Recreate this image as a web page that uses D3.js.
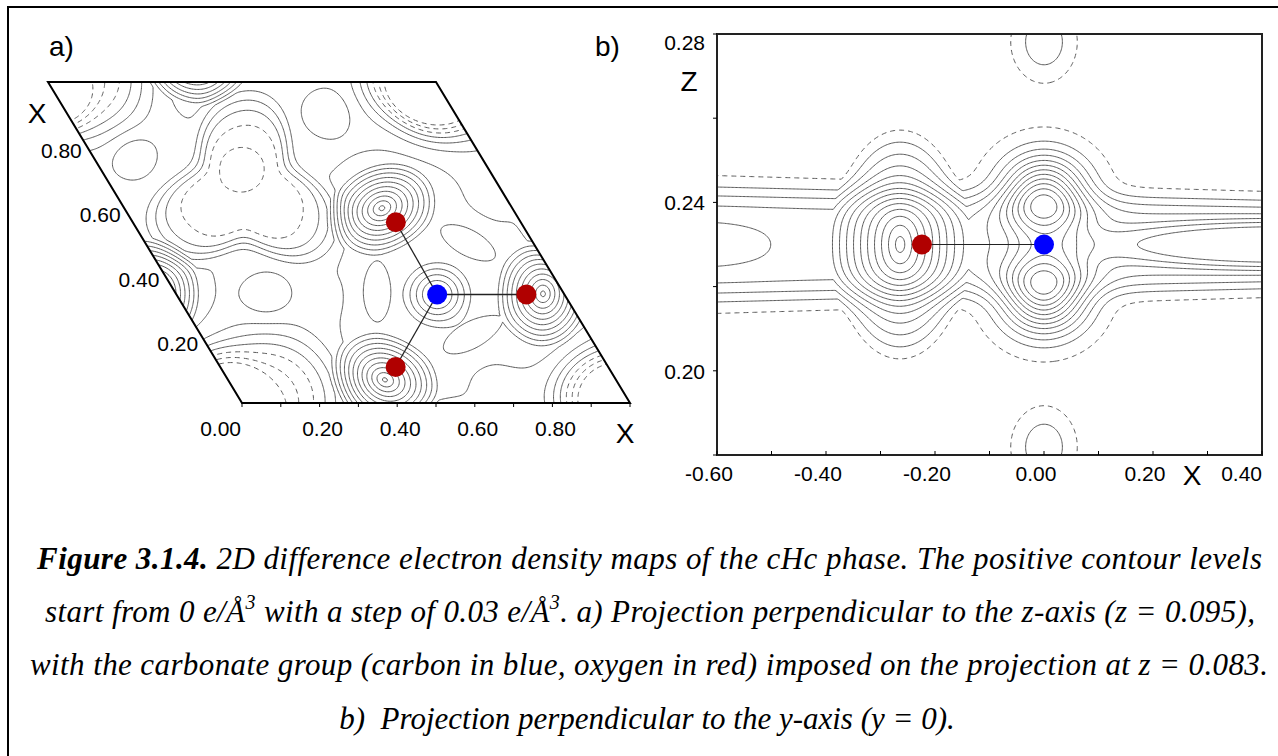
<!DOCTYPE html>
<html lang="en">
<head>
<meta charset="UTF-8">
<script src="https://d3js.org/d3.v7.min.js"></script>
<style>
  body { margin: 0; background: #fff; }
  svg text { font-family: "Liberation Sans", Arial, sans-serif; fill: #000; }
  svg .caption text { font-family: "Liberation Serif", "Times New Roman", serif; font-style: italic; font-size: 31px; }
</style>
</head>
<body>
<svg id="fig" width="1278" height="756"></svg>
<script>
// ---------- panel a : fractional coords (u, v) of the hexagonal cell ----------
const ticksA = [0, 0.2, 0.4, 0.6, 0.8];
const minorTicksA = d3.range(0, 1.0001, 0.1);
const plateauA = 0.075;
// p = 0 -> cone profile, otherwise exp(-r^p / 2); k3 gives a three-fold (triangular) shape
const oxygenPeaksA = [
  { u: 0.946, v: 0.340, a: 0.28, rx: 0.12, ry: 0.15, rot: 0, p: 0 },
  { u: 0.664, v: 0.607, a: 0.28, rx: 0.12, ry: 0.15, rot: 120, p: 0 },
  { u: 0.404, v: 0.072, a: 0.28, rx: 0.12, ry: 0.15, rot: 240, p: 0 }
];
const oxygenHalosA = [
  { u: 0.930, v: 0.340, a: 0.05, rx: 0.11, ry: 0.13, rot: 0, p: 2 },
  { u: 0.666, v: 0.595, a: 0.05, rx: 0.11, ry: 0.13, rot: 120, p: 2 },
  { u: 0.418, v: 0.082, a: 0.05, rx: 0.11, ry: 0.13, rot: 240, p: 2 }
];
const carbonPeakA = [{ u: 0.672, v: 0.338, a: 0.20, rx: 0.10, ry: 0.10, rot: 0, p: 0 }];
const lonePairPeaksA = [
  { u: 0.520, v: 0.343, a: 0.05, rx: 0.035, ry: 0.06, rot: 180, p: 2 },
  { u: 0.832, v: 0.500, a: 0.05, rx: 0.035, ry: 0.06, rot: 60, p: 2 },
  { u: 0.688, v: 0.208, a: 0.05, rx: 0.035, ry: 0.06, rot: -60, p: 2 }
];
const ovalPeaksA = [
  { u: 0.105, v: 0.773, a: 0.035, rx: 0.045, ry: 0.045, rot: 0, p: 2 },
  { u: 0.671, v: 0.903, a: 0.035, rx: 0.045, ry: 0.045, rot: 0, p: 2 },
  { u: 0.229, v: 0.333, a: 0.035, rx: 0.045, ry: 0.045, rot: 0, p: 2 }
];
const wellsA = [
  { u: 0.335, v: 0.660, a: -0.125, rx: 0.18, ry: 0.18, rot: 0, p: 6, k3: 0.3, phi3: 90 },
  { u: 0.363, v: 0.732, a: -0.035, rx: 0.043, ry: 0.043, rot: 0, p: 2 },
  { u: 0.075, v: 0.020, a: -0.15, rx: 0.15, ry: 0.13, rot: 0, p: 3 },
  { u: -0.065, v: 0.025, a: -0.13, rx: 0.09, ry: 0.09, rot: 0, p: 3 },
  { u: -0.026, v: -0.047, a: -0.13, rx: 0.08, ry: 0.08, rot: 0, p: 3 }
];
const carbonAtomA = [0.672, 0.338];
const oxygenAtomsA = [[0.902, 0.338], [0.678, 0.563], [0.452, 0.112]];

// ---------- panel b : x, z ----------
const ticksBx = [-0.6, -0.4, -0.2, 0.0, 0.2, 0.4];
const ticksBz = [0.20, 0.24, 0.28];
const baseB = -0.045;
const bandB = { z: 0.23, a: 0.125, sLeft: 0.0114, sRight: 0.0088, p: 4 };
const peaksB = [
  { x: -0.264, z: 0.23, a: 0.30, sx: 0.128, sz: 0.0286, p: 0 },     // oxygen
  { x: 0.0, z: 0.2415, a: 0.30, sx: 0.055, sz: 0.0067, p: 2 },      // carbon upper lobe
  { x: 0.0, z: 0.2185, a: 0.30, sx: 0.055, sz: 0.0067, p: 2 },      // carbon lower lobe
  { x: -0.12, z: 0.23, a: 0.02, sx: 0.022, sz: 0.0052, p: 2 },      // bond bump
  { x: -0.63, z: 0.23, a: 0.025, sx: 0.095, sz: 0.0046, p: 2 },     // left edge
  { x: 0.45, z: 0.23, a: 0.10, sx: 0.30, sz: 0.0048, p: 4 },        // right edge
  { x: 0.0, z: 0.2781, a: 0.073, sx: 0.0343, sz: 0.0055, p: 2 },    // top column
  { x: 0.0, z: 0.1819, a: 0.073, sx: 0.0343, sz: 0.0055, p: 2 }     // bottom column
];
const carbonAtomB = [0.0, 0.23];
const oxygenAtomB = [-0.224, 0.23];

const levels = d3.range(-3, 17).map(k => +(k * 0.03).toFixed(2));

const SQ3 = Math.sqrt(3);
const profile = (r, p) => p === 0 ? Math.max(0, 1 - r) : Math.exp(-0.5 * Math.pow(r, p));

const svg = d3.select("#fig");

// outer frame (top and left)
svg.append("path").attr("d", "M8,756 L8,7 L1278,7")
  .attr("fill", "none").attr("stroke", "#000").attr("stroke-width", 2);

// ================= panel a =================
const xA = d3.scaleLinear().domain([0, 1]).range([242, 630]);
const yA = d3.scaleLinear().domain([0, 1]).range([403, 82]);
const skewA = 194;
const toA = (u, v) => [xA(u) - skewA * v, yA(v)];

const peaksA = [].concat(oxygenPeaksA, oxygenHalosA, carbonPeakA, lonePairPeaksA, ovalPeaksA, wellsA);
function fieldA(u, v) {
  const X = u - v / 2, Y = v * SQ3 / 2;
  let f = plateauA;
  for (const pk of peaksA) {
    const c = Math.cos(pk.rot * Math.PI / 180), s = Math.sin(pk.rot * Math.PI / 180);
    for (let du = -1; du <= 1; du++) for (let dv = -1; dv <= 1; dv++) {
      const pu = pk.u + du, pv = pk.v + dv;
      const dx = X - (pu - pv / 2), dy = Y - pv * SQ3 / 2;
      const ex = (dx * c + dy * s) / pk.rx, ey = (-dx * s + dy * c) / pk.ry;
      let r = Math.hypot(ex, ey);
      if (pk.k3) r /= 1 + pk.k3 * Math.cos(3 * (Math.atan2(dy, dx) - pk.phi3 * Math.PI / 180));
      f += pk.a * profile(r, pk.p);
    }
  }
  return f;
}

const nA = 300, u0 = -0.06, u1 = 1.06, stepA = (u1 - u0) / (nA - 1);
const valuesA = new Float64Array(nA * nA);
for (let j = 0; j < nA; j++) for (let i = 0; i < nA; i++) {
  valuesA[j * nA + i] = fieldA(u0 + i * stepA, u1 - j * stepA);
}
const projA = d3.geoTransform({
  point(cx, cy) {
    const p = toA(u0 + (cx - 0.5) * stepA, u1 - (cy - 0.5) * stepA);
    this.stream.point(p[0], p[1]);
  }
});

const cellA = [toA(0, 0), toA(1, 0), toA(1, 1), toA(0, 1)];
svg.append("clipPath").attr("id", "clipA").append("polygon").attr("points", cellA.join(" "));

svg.append("g").attr("clip-path", "url(#clipA)")
  .selectAll("path")
  .data(d3.contours().size([nA, nA]).thresholds(levels)(valuesA))
  .join("path")
  .attr("d", d3.geoPath(projA))
  .attr("fill", "none")
  .attr("stroke", "#5a5a5a")
  .attr("stroke-width", 1)
  .attr("stroke-dasharray", d => d.value < -1e-9 ? "5,4" : null);

// bonds and atoms
const gAtomsA = svg.append("g");
oxygenAtomsA.forEach(o => {
  gAtomsA.append("line")
    .attr("x1", toA(...carbonAtomA)[0]).attr("y1", toA(...carbonAtomA)[1])
    .attr("x2", toA(...o)[0]).attr("y2", toA(...o)[1])
    .attr("stroke", "#222").attr("stroke-width", 1.3);
});
oxygenAtomsA.forEach(o => {
  gAtomsA.append("circle").attr("cx", toA(...o)[0]).attr("cy", toA(...o)[1])
    .attr("r", 10).attr("fill", "#b00000");
});
gAtomsA.append("circle").attr("cx", toA(...carbonAtomA)[0]).attr("cy", toA(...carbonAtomA)[1])
  .attr("r", 10).attr("fill", "#0000ff");

// cell frame
svg.append("polygon").attr("points", cellA.join(" "))
  .attr("fill", "none").attr("stroke", "#000").attr("stroke-width", 2);

// ticks on bottom edge
svg.append("g").selectAll("line").data(minorTicksA).join("line")
  .attr("x1", d => xA(d)).attr("x2", d => xA(d))
  .attr("y1", yA(0)).attr("y2", yA(0) + 4)
  .attr("stroke", "#000").attr("stroke-width", 1);

svg.append("g").selectAll("text").data(ticksA).join("text")
  .attr("x", d => d === 0 ? xA(d) - 1 : xA(d) + 3)
  .attr("y", 436)
  .attr("text-anchor", d => d === 0 ? "end" : "middle")
  .attr("font-size", 21)
  .text(d => d.toFixed(2));

svg.append("g").selectAll("text").data(ticksA.filter(d => d > 0)).join("text")
  .attr("x", d => toA(0, d)[0] - 5)
  .attr("y", d => toA(0, d)[1] + 12)
  .attr("text-anchor", "end")
  .attr("font-size", 21)
  .text(d => d.toFixed(2));

svg.append("text").attr("x", 37).attr("y", 123).attr("text-anchor", "middle").attr("font-size", 28).text("X");
svg.append("text").attr("x", 625).attr("y", 443).attr("text-anchor", "middle").attr("font-size", 28).text("X");
svg.append("text").attr("x", 49).attr("y", 56).attr("font-size", 28).text("a)");

// ================= panel b =================
const xB = d3.scaleLinear().domain([-0.6, 0.4]).range([717, 1262]);
const zB = d3.scaleLinear().domain([0.18, 0.28]).range([455, 34]);
const bandWidth = d3.scaleLinear().domain([-0.6, 0.4]).range([bandB.sLeft, bandB.sRight]);

function fieldB(x, z) {
  let f = baseB + bandB.a * Math.exp(-0.5 * Math.pow(Math.abs(z - bandB.z) / bandWidth(x), bandB.p));
  for (const pk of peaksB) {
    const dx = (x - pk.x) / pk.sx;
    const dz = (z - pk.z) / pk.sz;
    f += pk.a * profile(Math.hypot(dx, dz), pk.p);
  }
  return f;
}

const nBx = 420, nBz = 340;
const bx0 = -0.62, bx1 = 0.42, bz0 = 0.175, bz1 = 0.285;
const sBx = (bx1 - bx0) / (nBx - 1), sBz = (bz1 - bz0) / (nBz - 1);
const valuesB = new Float64Array(nBx * nBz);
for (let j = 0; j < nBz; j++) for (let i = 0; i < nBx; i++) {
  valuesB[j * nBx + i] = fieldB(bx0 + i * sBx, bz1 - j * sBz);
}
const projB = d3.geoTransform({
  point(cx, cy) {
    this.stream.point(xB(bx0 + (cx - 0.5) * sBx), zB(bz1 - (cy - 0.5) * sBz));
  }
});

svg.append("clipPath").attr("id", "clipB").append("rect")
  .attr("x", xB(-0.6)).attr("y", zB(0.28))
  .attr("width", xB(0.4) - xB(-0.6)).attr("height", zB(0.18) - zB(0.28));

svg.append("g").attr("clip-path", "url(#clipB)")
  .selectAll("path")
  .data(d3.contours().size([nBx, nBz]).thresholds(levels)(valuesB))
  .join("path")
  .attr("d", d3.geoPath(projB))
  .attr("fill", "none")
  .attr("stroke", "#5a5a5a")
  .attr("stroke-width", 1)
  .attr("stroke-dasharray", d => d.value < -1e-9 ? "5,4" : null);

svg.append("line")
  .attr("x1", xB(oxygenAtomB[0])).attr("y1", zB(oxygenAtomB[1]))
  .attr("x2", xB(carbonAtomB[0])).attr("y2", zB(carbonAtomB[1]))
  .attr("stroke", "#222").attr("stroke-width", 1.2);
svg.append("circle").attr("cx", xB(oxygenAtomB[0])).attr("cy", zB(oxygenAtomB[1]))
  .attr("r", 10).attr("fill", "#b00000");
svg.append("circle").attr("cx", xB(carbonAtomB[0])).attr("cy", zB(carbonAtomB[1]))
  .attr("r", 10).attr("fill", "#0000ff");

svg.append("rect")
  .attr("x", xB(-0.6)).attr("y", zB(0.28))
  .attr("width", xB(0.4) - xB(-0.6)).attr("height", zB(0.18) - zB(0.28))
  .attr("fill", "none").attr("stroke", "#222").attr("stroke-width", 2);

// ticks
svg.append("g").selectAll("line").data(d3.range(-0.6, 0.4001, 0.1)).join("line")
  .attr("x1", d => xB(d)).attr("x2", d => xB(d))
  .attr("y1", zB(0.18)).attr("y2", zB(0.18) - 4)
  .attr("stroke", "#000");
svg.append("g").selectAll("line").data(d3.range(0.18, 0.2801, 0.02)).join("line")
  .attr("x1", xB(-0.6)).attr("x2", xB(-0.6) - 4)
  .attr("y1", d => zB(d)).attr("y2", d => zB(d))
  .attr("stroke", "#000");

svg.append("g").selectAll("text").data(ticksBx).join("text")
  .attr("x", d => d === 0.4 ? xB(d) : xB(d) - 8)
  .attr("y", 481)
  .attr("text-anchor", d => d === 0.4 ? "end" : "middle")
  .attr("font-size", 21)
  .text(d => d.toFixed(2));
svg.append("g").selectAll("text").data(ticksBz).join("text")
  .attr("x", 705)
  .attr("y", d => d === 0.28 ? 50 : zB(d) + 8)
  .attr("text-anchor", "end")
  .attr("font-size", 21)
  .text(d => d.toFixed(2));

svg.append("text").attr("x", 689).attr("y", 91).attr("text-anchor", "middle").attr("font-size", 28).text("Z");
svg.append("text").attr("x", 1192).attr("y", 485).attr("text-anchor", "middle").attr("font-size", 28).text("X");
svg.append("text").attr("x", 595).attr("y", 56).attr("font-size", 28).text("b)");

// ================= caption =================
const cap = svg.append("g").attr("class", "caption");
const l1 = cap.append("text").attr("x", 37).attr("y", 569).attr("textLength", 1225).attr("lengthAdjust", "spacing");
l1.append("tspan").attr("font-weight", "bold").text("Figure 3.1.4.");
l1.append("tspan").text(" 2D difference electron density maps of the cHc phase. The positive contour levels");

const l2 = cap.append("text").attr("x", 45).attr("y", 622).attr("textLength", 1210).attr("lengthAdjust", "spacing");
l2.append("tspan").text("start from 0 e/Å");
l2.append("tspan").attr("font-size", 20).attr("dy", -13).text("3");
l2.append("tspan").attr("dy", 13).text(" with a step of 0.03 e/Å");
l2.append("tspan").attr("font-size", 20).attr("dy", -13).text("3");
l2.append("tspan").attr("dy", 13).text(". a) Projection perpendicular to the z-axis (z = 0.095),");

cap.append("text").attr("x", 30).attr("y", 675).attr("textLength", 1238).attr("lengthAdjust", "spacing")
  .text("with the carbonate group (carbon in blue, oxygen in red) imposed on the projection at z = 0.083.");

cap.append("text").attr("x", 647).attr("y", 729).attr("text-anchor", "middle")
  .attr("xml:space", "preserve")
  .text("b)  Projection perpendicular to the y-axis (y = 0).");
</script>
</body>
</html>
